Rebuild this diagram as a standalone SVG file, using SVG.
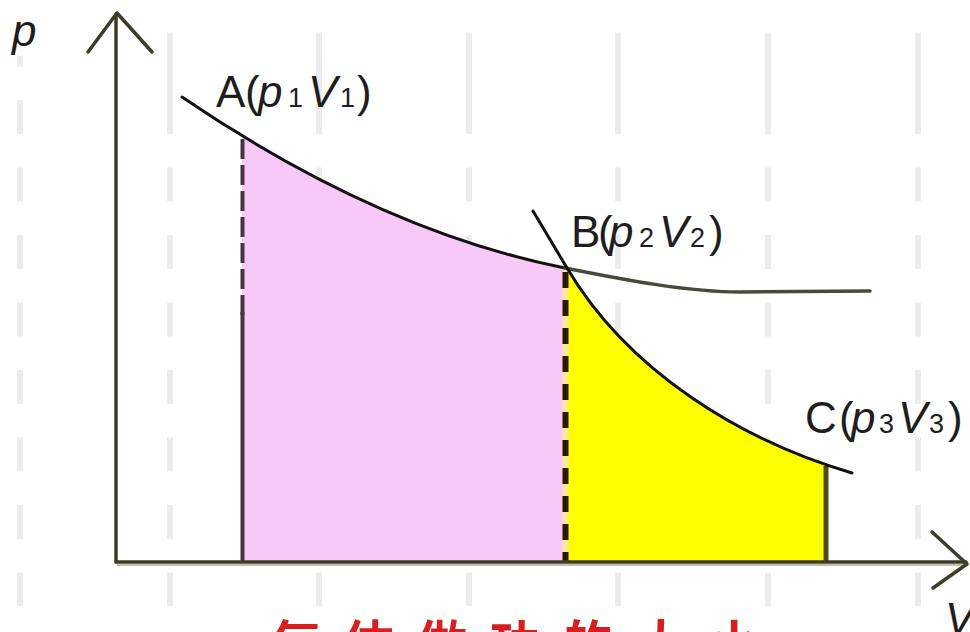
<svg xmlns="http://www.w3.org/2000/svg" width="970" height="632" viewBox="0 0 970 632">
  <defs>
    <style>
      .grid { stroke: #ececec; stroke-width: 6; fill: none; }
      .axis { stroke: #3c3c28; stroke-width: 3.5; fill: none; stroke-linecap: round; stroke-linejoin: round; }
      .curve { stroke: #111; stroke-width: 3; fill: none; stroke-linecap: round; }
      .lbl { font-family: "Liberation Sans", Arial, sans-serif; font-size: 44px; fill: #1e1e1e; }
      .it { font-style: italic; }
      .sub { font-size: 27px; }
    </style>
    <clipPath id="underAB">
      <path d="M182,97 C260,150 400,235 565,268 L565,562 L182,562 Z"/>
    </clipPath>
    <clipPath id="underBC">
      <path d="M567,268 C628,371 740,440 852,473 L852,562 L567,562 Z"/>
    </clipPath>
  </defs>

  <rect width="970" height="632" fill="#ffffff"/>

  <!-- background dashed grid -->
  <g id="grid" class="grid">
    <line x1="20" y1="32.5" x2="20" y2="606" stroke-dasharray="34 33.5"/>
    <line x1="170" y1="32.5" x2="170" y2="134"/>
    <line x1="170" y1="167.5" x2="170" y2="606" stroke-dasharray="34 33.5"/>
    <line x1="319" y1="32.5" x2="319" y2="134"/>
    <line x1="319" y1="167.5" x2="319" y2="606" stroke-dasharray="34 33.5"/>
    <line x1="469" y1="32.5" x2="469" y2="134"/>
    <line x1="469" y1="167.5" x2="469" y2="606" stroke-dasharray="34 33.5"/>
    <line x1="618" y1="32.5" x2="618" y2="134"/>
    <line x1="618" y1="167.5" x2="618" y2="606" stroke-dasharray="34 33.5"/>
    <line x1="768" y1="32.5" x2="768" y2="134"/>
    <line x1="768" y1="167.5" x2="768" y2="606" stroke-dasharray="34 33.5"/>
    <line x1="918" y1="32.5" x2="918" y2="134"/>
    <line x1="918" y1="167.5" x2="918" y2="606" stroke-dasharray="34 33.5"/>
  </g>

  <!-- shaded work areas -->
  <g id="areaAB">
    <rect x="242" y="100" width="323" height="462" fill="#f8c8f8" clip-path="url(#underAB)"/>
  </g>
  <g id="areaBC">
    <rect x="565" y="260" width="261" height="302" fill="#ffff00" clip-path="url(#underBC)"/>
  </g>

  <!-- connectors / lines -->
  <g id="connectors">
    <line x1="242.5" y1="139" x2="242.5" y2="315" stroke="#463646" stroke-width="4" stroke-dasharray="20 6"/>
    <line x1="242.5" y1="312" x2="242.5" y2="562" stroke="#463646" stroke-width="4"/>
    <line x1="565.5" y1="270" x2="565.5" y2="561" stroke="#fbe79a" stroke-width="6"/>
    <line x1="565.5" y1="272" x2="565.5" y2="561" stroke="#2a1800" stroke-width="6" stroke-dasharray="16 12"/>
    <line x1="826" y1="466" x2="826" y2="562" stroke="#4b4b1a" stroke-width="5"/>

    <path class="curve" d="M182,97 C260,150 400,235 565,268"/>
    <path d="M565,268 C630,281 690,292 740,292 L870,291" stroke="#4a4a36" stroke-width="3.5" fill="none" stroke-linecap="round"/>
    <path class="curve" d="M533,211 L567,268 C628,371 740,440 852,473"/>

    <line x1="117" y1="565" x2="968" y2="565" stroke="#c0c0aa" stroke-width="2"/>
    <path class="axis" d="M116,562 L116,14"/>
    <path class="axis" d="M116,562 L966,562"/>
    <path class="axis" stroke-width="3" d="M88,52 L117,13 L152,52"/>
    <path class="axis" stroke-width="3" d="M932,532 L967,564 L933,588"/>
  </g>

  <!-- labels -->
  <g id="label-p">
    <rect x="12" y="20" width="34" height="36" fill="#ffffff"/>
    <text class="lbl it" x="12" y="46">p</text>
  </g>
  <g id="label-V">
    <text class="lbl it" x="945" y="634" font-size="48">V</text>
  </g>
  <g id="node-A">
    <text class="lbl" y="107"><tspan x="216">A</tspan><tspan x="245">(</tspan><tspan class="it" x="258">p</tspan><tspan class="sub" x="288">1</tspan><tspan class="it" x="308">V</tspan><tspan class="sub" x="340">1</tspan><tspan x="357">)</tspan></text>
  </g>
  <g id="node-B">
    <text class="lbl" y="247"><tspan x="571">B</tspan><tspan x="598">(</tspan><tspan class="it" x="609">p</tspan><tspan class="sub" x="639">2</tspan><tspan class="it" x="659">V</tspan><tspan class="sub" x="690">2</tspan><tspan x="709">)</tspan></text>
  </g>
  <g id="node-C">
    <text class="lbl" y="433"><tspan x="805">C</tspan><tspan x="839">(</tspan><tspan class="it" x="851">p</tspan><tspan class="sub" x="879">3</tspan><tspan class="it" x="898">V</tspan><tspan class="sub" x="929">3</tspan><tspan x="948">)</tspan></text>
  </g>

  <g id="caption">
    <text x="271" y="662" font-family="'Noto Sans CJK SC', 'Noto Sans CJK JP', sans-serif" font-size="50" font-weight="bold" fill="#d81e1e" letter-spacing="23">气体做功的大小</text>
  </g>
</svg>
